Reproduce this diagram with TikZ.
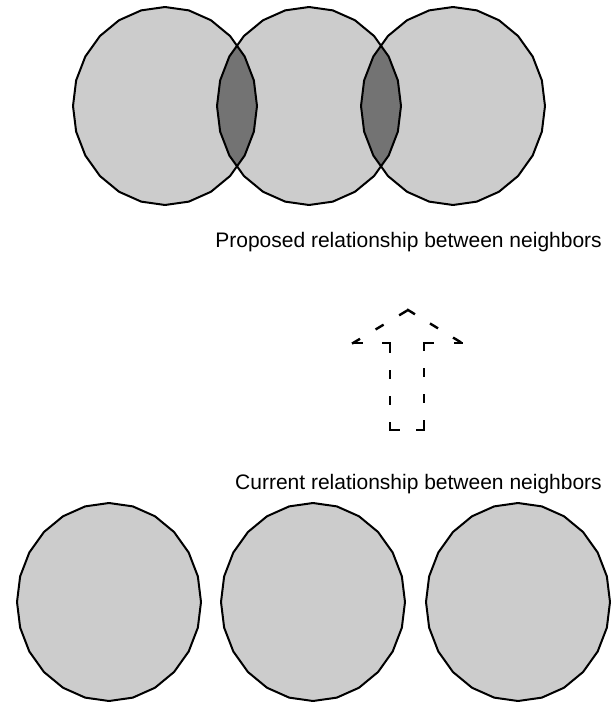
\documentclass[tikz,border=0pt]{standalone}
\usepackage{fontspec}
\setmainfont{Liberation Sans}
\definecolor{discfill}{gray}{0.80}
\definecolor{lensfill}{gray}{0.45}
\tikzset{
  discline/.style={draw=black, line width=2pt, line join=round},
  caption/.style={anchor=base east, inner sep=0pt, font=\fontsize{21}{25}\selectfont},
  dashseg/.style={line width=2.4pt, line cap=rect},
}
% polygonal disc outline centred at (#1,#2) with horizontal radius #3
\newcommand{\discpath}[3]{plot[domain=0:360, samples=25] ({#1+#3*cos(\x)},{#2+99*sin(\x)}) -- cycle}
\begin{document}
\begin{tikzpicture}[x=1pt, y=-1pt]
\useasboundingbox (0,0) rectangle (612,707);

% upper row: three overlapping discs
\fill[discfill] \discpath{165}{106}{92};
\fill[discfill] \discpath{309}{106}{92};
\fill[discfill] \discpath{453}{106}{92};
\begin{scope}
  \clip \discpath{165}{106}{92};
  \fill[lensfill] \discpath{309}{106}{92};
\end{scope}
\begin{scope}
  \clip \discpath{309}{106}{92};
  \fill[lensfill] \discpath{453}{106}{92};
\end{scope}
\draw[discline] \discpath{165}{106}{92};
\draw[discline] \discpath{309}{106}{92};
\draw[discline] \discpath{453}{106}{92};

\node[caption] (proposed) at (602,247) {Proposed relationship between neighbors};

% dashed outline arrow
\coordinate (a) at (390,430);
\coordinate (b) at (390,343);
\coordinate (c) at (353,343);
\coordinate (d) at (408,310);
\coordinate (e) at (462,343);
\coordinate (f) at (424,343);
\coordinate (g) at (424,430);
\draw[dashseg, dash pattern=on 7pt off 19pt] (a) -- (b);
\draw[dashseg, dash pattern=on 7pt off 21pt] (b) -- (c);
\draw[dashseg, dash pattern=on 7pt off 20.5pt] (c) -- (d);
\draw[dashseg, dash pattern=on 7pt off 20pt] (d) -- (e);
\draw[dashseg, dash pattern=on 7pt off 22pt] (e) -- (f);
\draw[dashseg, dash pattern=on 7pt off 19pt] (f) -- (g);
\draw[dashseg, dash pattern=on 7pt off 18pt] (g) -- (a);

\node[caption] (current) at (602,489) {Current relationship between neighbors};

% lower row: three separate discs
\filldraw[discline, fill=discfill] plot[domain=0:360, samples=25] ({109+92*cos(\x)},{602+99*sin(\x)}) -- cycle;
\filldraw[discline, fill=discfill] plot[domain=0:360, samples=25] ({313+92*cos(\x)},{602+99*sin(\x)}) -- cycle;
\filldraw[discline, fill=discfill] plot[domain=0:360, samples=25] ({518+92*cos(\x)},{602+99*sin(\x)}) -- cycle;
\end{tikzpicture}
\end{document}
